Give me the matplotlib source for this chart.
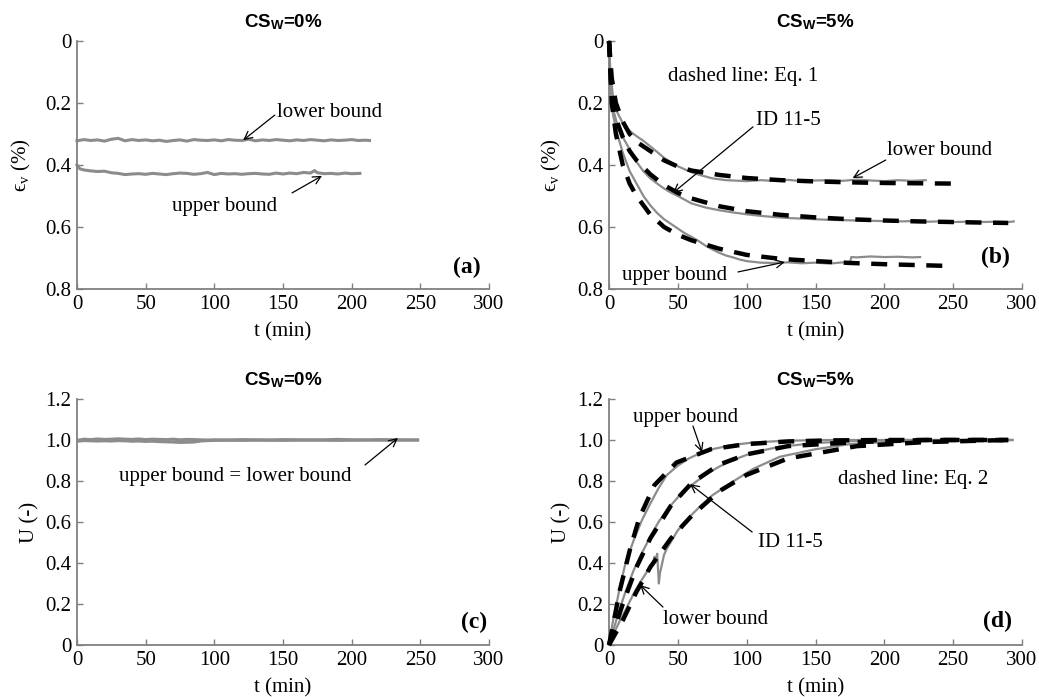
import numpy as np
import matplotlib
matplotlib.use("Agg")
import matplotlib.pyplot as plt

plt.rcParams['font.family'] = ['Liberation Serif', 'DejaVu Serif']
plt.rcParams['mathtext.fontset'] = 'custom'
plt.rcParams['mathtext.rm'] = 'Liberation Serif'
plt.rcParams['mathtext.it'] = 'Liberation Serif:italic'
plt.rcParams['mathtext.bf'] = 'Liberation Sans:bold'

# ---------------- data ----------------
# (a) volumetric strain, CSw = 0%
a_low_t = [0, 5, 10, 15, 20, 25, 30, 35, 40, 45, 50, 55, 60, 65, 70, 75, 80, 85, 90, 95, 100,
           105, 110, 115, 120, 125, 130, 135, 140, 145, 150, 155, 160, 165, 170, 175, 180,
           185, 190, 195, 200, 205, 210, 213]
a_low = [0.322, 0.318, 0.321, 0.319, 0.323, 0.317, 0.314, 0.322, 0.318, 0.321, 0.319, 0.322,
         0.320, 0.324, 0.321, 0.319, 0.323, 0.318, 0.320, 0.321, 0.319, 0.322, 0.318, 0.320,
         0.321, 0.317, 0.322, 0.319, 0.321, 0.318, 0.320, 0.322, 0.319, 0.321, 0.318, 0.320,
         0.322, 0.319, 0.321, 0.320, 0.318, 0.321, 0.320, 0.321]
a_up_t = [0, 2, 5, 10, 15, 20, 25, 30, 35, 40, 45, 50, 55, 60, 65, 70, 75, 80, 85, 90, 95, 100,
          105, 110, 115, 120, 125, 130, 135, 140, 145, 150, 155, 160, 165, 170, 173, 175, 180,
          185, 190, 195, 200, 206]
a_up = [0.400, 0.412, 0.416, 0.419, 0.421, 0.420, 0.425, 0.427, 0.431, 0.429, 0.428, 0.430,
        0.427, 0.429, 0.431, 0.428, 0.426, 0.427, 0.430, 0.428, 0.424, 0.431, 0.427, 0.429,
        0.428, 0.430, 0.428, 0.427, 0.429, 0.430, 0.426, 0.429, 0.426, 0.428, 0.424, 0.426,
        0.418, 0.425, 0.428, 0.427, 0.429, 0.426, 0.428, 0.427]

# (b) volumetric strain, CSw = 5% (measured)
b_low_t = [0, 1, 3, 6, 10, 15, 20, 25, 30, 35, 40, 45, 50, 55, 60, 65, 70, 75, 80, 85, 90,
           100, 110, 120, 130, 140, 150, 160, 170, 180, 190, 200, 210, 220, 230]
b_low = [0.0, 0.10, 0.185, 0.23, 0.265, 0.29, 0.307, 0.322, 0.340, 0.358, 0.377, 0.391, 0.404,
         0.414, 0.423, 0.431, 0.437, 0.443, 0.446, 0.449, 0.450, 0.452, 0.449, 0.451, 0.448,
         0.452, 0.450, 0.449, 0.451, 0.447, 0.450, 0.452, 0.449, 0.451, 0.449]
b_mid_t = [0, 1, 3, 6, 10, 15, 20, 25, 30, 35, 40, 45, 50, 60, 70, 80, 90, 100, 110, 120, 130,
           140, 150, 160, 170, 180, 190, 200, 210, 220, 230, 240, 250, 260, 270, 280, 290, 294]
b_mid = [0.0, 0.14, 0.22, 0.27, 0.31, 0.35, 0.39, 0.42, 0.443, 0.46, 0.476, 0.489, 0.50,
         0.524, 0.537, 0.546, 0.553, 0.559, 0.564, 0.568, 0.571, 0.573, 0.575, 0.577, 0.578,
         0.579, 0.580, 0.581, 0.582, 0.581, 0.583, 0.582, 0.584, 0.583, 0.584, 0.583, 0.584, 0.582]
b_up_t = [0, 1, 3, 6, 10, 15, 20, 25, 30, 35, 40, 45, 50, 55, 60, 65, 70, 75, 80, 85, 90, 95,
          100, 110, 120, 130, 140, 150, 160, 170, 175, 176, 180, 190, 200, 210, 220, 226]
b_up = [0.0, 0.15, 0.24, 0.30, 0.36, 0.42, 0.46, 0.50, 0.53, 0.555, 0.575, 0.59, 0.605, 0.62,
        0.632, 0.645, 0.66, 0.672, 0.683, 0.692, 0.698, 0.705, 0.710, 0.715, 0.716, 0.714,
        0.717, 0.715, 0.718, 0.714, 0.716, 0.697, 0.698, 0.695, 0.697, 0.696, 0.698, 0.697]
# (b) Eq. 1 fits
bf_low_t = [0, 2, 5, 10, 15, 20, 30, 40, 50, 60, 80, 100, 125, 150, 175, 200, 225, 250]
bf_low = [0.0, 0.12, 0.20, 0.26, 0.30, 0.325, 0.355, 0.385, 0.405, 0.418, 0.432, 0.442,
          0.449, 0.453, 0.456, 0.458, 0.459, 0.460]
bf_mid_t = [0, 2, 5, 10, 15, 20, 30, 40, 50, 60, 80, 100, 125, 150, 175, 200, 225, 250, 275, 290]
bf_mid = [0.0, 0.17, 0.25, 0.31, 0.355, 0.385, 0.43, 0.465, 0.49, 0.508, 0.533, 0.549, 0.561,
          0.569, 0.575, 0.579, 0.582, 0.584, 0.586, 0.587]
bf_up_t = [0, 2, 5, 10, 15, 20, 30, 40, 50, 60, 80, 100, 125, 150, 175, 200, 225, 250]
bf_up = [0.0, 0.20, 0.30, 0.40, 0.46, 0.50, 0.56, 0.60, 0.625, 0.643, 0.67, 0.69, 0.703,
         0.710, 0.716, 0.720, 0.723, 0.726]

# (c) degree of consolidation, CSw = 0%
c_t = [0, 5, 10, 15, 20, 25, 30, 35, 40, 45, 50, 55, 60, 65, 70, 75, 80, 85, 90, 95, 100, 110,
       120, 130, 140, 150, 160, 170, 180, 190, 200, 210, 220, 230, 240, 248]
c_up = [0.998, 1.004, 1.002, 1.005, 1.003, 1.004, 1.006, 1.004, 1.003, 1.005, 1.002, 1.004,
        1.003, 1.002, 1.004, 1.001, 1.003, 1.002, 1.001, 1.000, 1.001, 1.000, 1.002, 1.001,
        1.000, 1.002, 1.001, 1.000, 1.001, 1.003, 1.001, 1.000, 1.002, 1.001, 1.000, 1.000]
c_low = [0.994, 0.997, 0.996, 0.995, 0.996, 0.995, 0.997, 0.996, 0.994, 0.995, 0.993, 0.994,
         0.992, 0.991, 0.990, 0.988, 0.989, 0.990, 0.995, 0.997, 0.998, 0.999, 0.998, 0.999,
         0.999, 0.998, 0.999, 1.000, 0.999, 0.998, 0.999, 1.000, 0.999, 0.999, 1.000, 1.000]

# (d) degree of consolidation, CSw = 5% (measured)
d_up_t = [0, 3, 8, 12, 18, 24, 30, 36, 42, 50, 58, 66, 75, 90, 105, 124, 140, 160, 180, 200, 250, 293]
d_up = [0.0, 0.122, 0.284, 0.40, 0.512, 0.61, 0.69, 0.765, 0.829, 0.875, 0.91, 0.935, 0.955,
        0.976, 0.988, 0.995, 0.998, 1.0, 1.0, 1.0, 1.0, 1.0]
d_mid_t = [0, 3, 8, 12, 18, 24, 30, 36, 42, 50, 60, 70, 80, 90, 105, 124, 150, 177, 200, 250, 293]
d_mid = [0.0, 0.07, 0.18, 0.26, 0.366, 0.45, 0.528, 0.60, 0.659, 0.72, 0.78, 0.83, 0.87,
         0.902, 0.94, 0.967, 0.985, 0.995, 1.0, 1.0, 1.0]
d_low_t = [0, 3, 8, 12, 18, 24, 30, 32, 33, 34, 35, 36.2, 37, 40, 42, 50, 60, 66, 75, 90, 105,
           124, 150, 175, 200, 250, 293]
d_low = [0.0, 0.05, 0.12, 0.17, 0.252, 0.32, 0.382, 0.40, 0.43, 0.415, 0.445, 0.30, 0.35, 0.44,
         0.47, 0.56, 0.635, 0.675, 0.73, 0.797, 0.86, 0.918, 0.955, 0.98, 0.99, 1.0, 1.0]
# (d) Eq. 2 fits
df_up_t = [0, 3, 8, 15, 22, 33, 49, 74, 100, 130, 160, 200, 250, 290]
df_up = [0.0, 0.10, 0.27, 0.46, 0.62, 0.78, 0.89, 0.955, 0.98, 0.993, 0.998, 1.0, 1.0, 1.0]
df_mid_t = [0, 5, 10, 20, 30, 45, 60, 80, 100, 130, 180, 230, 290]
df_mid = [0.0, 0.10, 0.20, 0.38, 0.52, 0.68, 0.79, 0.88, 0.93, 0.97, 0.99, 1.0, 1.0]
df_low_t = [0, 5, 10, 20, 30, 45, 60, 80, 100, 130, 180, 230, 290]
df_low = [0.0, 0.06, 0.12, 0.26, 0.38, 0.52, 0.63, 0.75, 0.83, 0.91, 0.97, 0.99, 1.0]

x_ticks = [0, 50, 100, 150, 200, 250, 300]
eps_ticks = [0, 0.2, 0.4, 0.6, 0.8]
eps_labels = ["0", "0.2", "0.4", "0.6", "0.8"]
u_ticks = [0, 0.2, 0.4, 0.6, 0.8, 1.0, 1.2]
u_labels = ["0", "0.2", "0.4", "0.6", "0.8", "1.0", "1.2"]

# ---------------- figure ----------------
W, H = 1039, 697
fig = plt.figure(figsize=(W / 100, H / 100), dpi=100)

def frac(l, t, r, b):
    return [l / W, 1 - b / H, (r - l) / W, (b - t) / H]

ax_a = fig.add_axes(frac(77, 41, 489, 289))
ax_b = fig.add_axes(frac(609, 41, 1022, 289))
ax_c = fig.add_axes(frac(77, 399, 489, 645))
ax_d = fig.add_axes(frac(609, 399, 1022, 645))

GREY = '#8c8c8c'
SPINE = '#808080'
FS = 15

def style(ax, top_row):
    ax.set_xlim(0, 300)
    ax.set_xticks(x_ticks)
    if top_row:
        ax.set_ylim(0.8, 0)
        ax.set_yticks(eps_ticks)
        ax.set_yticklabels(eps_labels)
    else:
        ax.set_ylim(0, 1.2)
        ax.set_yticks(u_ticks)
        ax.set_yticklabels(u_labels)
    for s in ['top', 'right']:
        ax.spines[s].set_visible(False)
    for s in ['left', 'bottom']:
        ax.spines[s].set_color(SPINE)
        ax.spines[s].set_linewidth(1.3)
    ax.tick_params(direction='in', length=4, width=1.0, color=SPINE,
                   labelsize=FS, pad=4)
    ax.set_xlabel('t (min)', fontsize=FS)
    ax.xaxis.set_label_coords(0.5, -0.135)
    ax.patch.set_visible(False)

for ax, top in [(ax_a, True), (ax_b, True), (ax_c, False), (ax_d, False)]:
    style(ax, top)

def title(ax, txt):
    ax.set_title(txt, fontsize=13.5, fontweight='bold', family='Liberation Sans', pad=10)

title(ax_a, r'CS$_{\mathbf{W}}$=0%')
title(ax_b, r'CS$_{\mathbf{W}}$=5%')
title(ax_c, r'CS$_{\mathbf{W}}$=0%')
title(ax_d, r'CS$_{\mathbf{W}}$=5%')

EPS_LABEL = 'ϵ$_{\\mathrm{v}}$ (%)'
ax_a.set_ylabel(EPS_LABEL, fontsize=FS)
ax_a.yaxis.set_label_coords(-0.107, 0.5)
ax_b.set_ylabel(EPS_LABEL, fontsize=FS)
ax_b.yaxis.set_label_coords(-0.111, 0.5)
ax_c.set_ylabel('U (-)', fontsize=FS)
ax_c.yaxis.set_label_coords(-0.09, 0.5)
ax_d.set_ylabel('U (-)', fontsize=FS)
ax_d.yaxis.set_label_coords(-0.09, 0.5)

DASH = dict(color='black', lw=3.2, dashes=(3.6, 2.6), dash_capstyle='butt', zorder=3)
MEAS = dict(color=GREY, lw=1.6, zorder=2)

# (a)
ax_a.plot(a_low_t, a_low, color=GREY, lw=2.2, clip_on=False)
ax_a.plot(a_up_t, a_up, color=GREY, lw=2.2, clip_on=False)

# (b)
ax_b.plot(b_low_t, b_low, **MEAS)
ax_b.plot(b_mid_t, b_mid, **MEAS)
ax_b.plot(b_up_t, b_up, **MEAS)
ax_b.plot(bf_low_t, bf_low, clip_on=False, **DASH)
ax_b.plot(bf_mid_t, bf_mid, clip_on=False, **DASH)
ax_b.plot(bf_up_t, bf_up, clip_on=False, **DASH)

# (c)
ax_c.plot(c_t, c_up, color=GREY, lw=2.2)
ax_c.plot(c_t, c_low, color=GREY, lw=2.2)

# (d)
ax_d.plot(d_up_t, d_up, **MEAS)
ax_d.plot(d_mid_t, d_mid, **MEAS)
ax_d.plot(d_low_t, d_low, **MEAS)
ax_d.plot(df_up_t, df_up, clip_on=False, **DASH)
ax_d.plot(df_mid_t, df_mid, clip_on=False, **DASH)
ax_d.plot(df_low_t, df_low, clip_on=False, **DASH)

ARROW = dict(arrowstyle='->', color='black', lw=0.9, shrinkA=0, shrinkB=0,
             mutation_scale=14)

def note(ax, txt, xy, xytext, textpos, ha='left'):
    ax.text(textpos[0], textpos[1], txt, fontsize=FS, ha=ha, va='center')
    if xy is not None:
        ax.annotate('', xy=xy, xytext=xytext, arrowprops=ARROW)

# (a) annotations
note(ax_a, 'lower bound', (121, 0.32), (144, 0.239), (145.6, 0.232))
note(ax_a, 'upper bound', (178.4, 0.435), (156.6, 0.49), (69, 0.535))
ax_a.text(294, 0.73, '(a)', fontsize=17, fontweight='bold', ha='right', va='center')

# (b) annotations
note(ax_b, 'dashed line: Eq. 1', None, None, (43, 0.113))
note(ax_b, 'ID 11-5', (46.5, 0.49), (104.6, 0.277), (106.8, 0.255))
note(ax_b, 'lower bound', (177, 0.442), (201, 0.384), (202, 0.352))
note(ax_b, 'upper bound', (127.8, 0.713), (93.7, 0.745), (9.4, 0.755))
ax_b.text(291, 0.697, '(b)', fontsize=17, fontweight='bold', ha='right', va='center')

# (c) annotations
note(ax_c, 'upper bound = lower bound', (233.7, 1.01), (209.7, 0.878), (30.6, 0.82))
ax_c.text(298.5, 0.112, '(c)', fontsize=17, fontweight='bold', ha='right', va='center')

# (d) annotations
note(ax_d, 'upper bound', (67.6, 0.94), (61, 1.068), (17.4, 1.112))
note(ax_d, 'dashed line: Eq. 2', None, None, (166, 0.805))
note(ax_d, 'ID 11-5', (58.8, 0.785), (104, 0.551), (108, 0.502))
note(ax_d, 'lower bound', (22.5, 0.293), (39.2, 0.185), (39, 0.122))
ax_d.text(292.7, 0.117, '(d)', fontsize=17, fontweight='bold', ha='right', va='center')

fig.savefig('out.png', dpi=100)
